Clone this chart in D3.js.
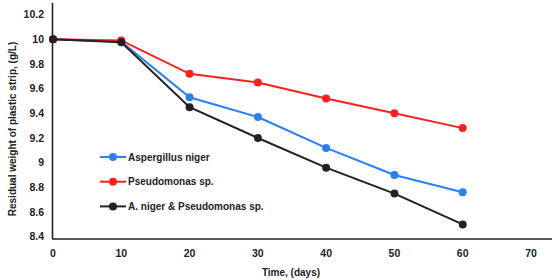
<!DOCTYPE html>
<html>
<head>
<meta charset="utf-8">
<script src="https://cdn.jsdelivr.net/npm/d3@7"></script>
<style>
  body { margin: 0; background: #fff; }
  svg { font-family: "Liberation Sans", Arial, sans-serif; font-weight: bold; }
</style>
</head>
<body>
<div id="chart"></div>
<script>
// dữ liệu
const days = [0, 10, 20, 30, 40, 50, 60];
const aspergillus = [10, 9.98, 9.53, 9.37, 9.12, 8.90, 8.76];
const pseudomonas = [10, 9.99, 9.72, 9.65, 9.52, 9.40, 9.28];
const mixed = [10, 9.975, 9.45, 9.20, 8.96, 8.75, 8.50];
const xTicks = [0, 10, 20, 30, 40, 50, 60, 70];
const yTicks = [8.4, 8.6, 8.8, 9, 9.2, 9.4, 9.6, 9.8, 10, 10.2];
const seriesNames = ["Aspergillus niger", "Pseudomonas sp.", "A. niger & Pseudomonas sp."];
const seriesColors = ["#2b7ff6", "#fb2020", "#222222"];

const series = [aspergillus, pseudomonas, mixed].map((vals, i) => ({
    name: seriesNames[i],
    color: seriesColors[i],
    values: days.map((d, j) => ({ day: d, value: vals[j] }))
}));

const width = 552, height = 280;

const svg = d3.select("#chart")
    .append("svg")
    .attr("width", width)
    .attr("height", height);

const x = d3.scaleLinear().domain([0, 70]).range([53, 531]);
const y = d3.scaleLinear().domain([8.4, 10.2]).range([236.8, 14.5]);

// trục y
svg.append("line")
    .attr("x1", 52.5).attr("x2", 52.5)
    .attr("y1", 3).attr("y2", 239)
    .attr("stroke", "#222").attr("stroke-width", 1.6);

// trục x
svg.append("line")
    .attr("x1", 52).attr("x2", 552)
    .attr("y1", 239).attr("y2", 239)
    .attr("stroke", "#222").attr("stroke-width", 1.6);

svg.selectAll(".ytick")
    .data(yTicks)
    .enter()
    .append("text")
    .attr("class", "ytick")
    .attr("x", 44)
    .attr("y", d => y(d))
    .attr("dy", "0.35em")
    .attr("text-anchor", "end")
    .style("font-size", "10.5px")
    .attr("fill", "#222")
    .text(d => d);

svg.selectAll(".xtick")
    .data(xTicks)
    .enter()
    .append("text")
    .attr("class", "xtick")
    .attr("x", d => x(d))
    .attr("y", 253)
    .attr("dy", "0.35em")
    .attr("text-anchor", "middle")
    .style("font-size", "10.5px")
    .attr("fill", "#222")
    .text(d => d);

svg.append("text")
    .attr("x", 291)
    .attr("y", 272)
    .attr("dy", "0.35em")
    .attr("text-anchor", "middle")
    .style("font-size", "10px")
    .attr("fill", "#222")
    .text("Time, (days)");

svg.append("text")
    .attr("transform", "translate(12,129) rotate(-90)")
    .attr("dy", "0.35em")
    .attr("text-anchor", "middle")
    .style("font-size", "10px")
    .attr("fill", "#222")
    .text("Residual weight of plastic strip, (g/L)");

const line = d3.line()
    .x(d => x(d.day))
    .y(d => y(d.value));

const g = svg.selectAll(".series")
    .data(series)
    .enter()
    .append("g")
    .attr("class", "series");

g.append("path")
    .attr("d", d => line(d.values))
    .attr("fill", "none")
    .attr("stroke", d => d.color)
    .attr("stroke-width", 2);

g.selectAll("circle")
    .data(d => d.values.map(v => ({ ...v, color: d.color })))
    .enter()
    .append("circle")
    .attr("cx", d => x(d.day))
    .attr("cy", d => y(d.value))
    .attr("r", 4)
    .attr("fill", d => d.color);

// chú thích
const legend = svg.selectAll(".legend")
    .data(series)
    .enter()
    .append("g")
    .attr("class", "legend")
    .attr("transform", (d, i) => "translate(100," + (157 + i * 24.7) + ")");

legend.append("line")
    .attr("x1", 0).attr("x2", 26)
    .attr("stroke", d => d.color)
    .attr("stroke-width", 2);

legend.append("circle")
    .attr("cx", 13)
    .attr("r", 4)
    .attr("fill", d => d.color);

legend.append("text")
    .attr("x", 28)
    .attr("dy", "0.35em")
    .style("font-size", "10px")
    .attr("fill", "#222")
    .text(d => d.name);
</script>
</body>
</html>
